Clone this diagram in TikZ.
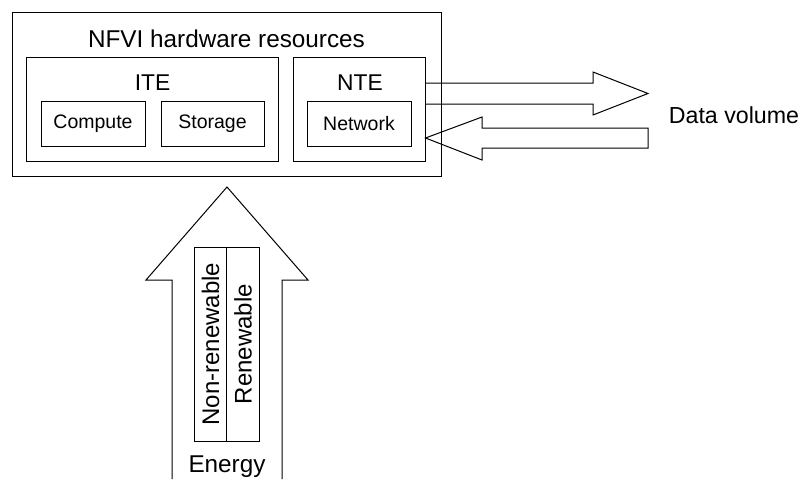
\documentclass[tikz,border=0pt]{standalone}
\usepackage{fontspec}
\setmainfont{Liberation Sans}
\usetikzlibrary{positioning}

\begin{document}
\begin{tikzpicture}[x=1pt, y=-1pt,
        group/.style={draw, line width=1pt, inner sep=0pt, minimum height=104pt},
        unit/.style={draw, line width=1pt, inner sep=0pt, minimum width=104pt, minimum height=45pt, font=\fontsize{19.5}{23}\selectfont},
        heading/.style={inner sep=0pt, font=\fontsize{24.3}{28}\selectfont},
        subheading/.style={inner sep=0pt, font=\fontsize{22.8}{27}\selectfont},
        source/.style={draw, line width=1pt, rotate=90, inner sep=0pt, minimum width=194pt, minimum height=32.5pt, font=\fontsize{24}{28}\selectfont},
        blockarrow/.style={draw, line width=1pt, line join=miter}
    ]
        \useasboundingbox (0,0) rectangle (805,479);

        % Zones
        \node[draw, line width=1pt, minimum width=429pt, minimum height=164pt] (nfvi) at (226.5,94) {};
        \node[heading] (nfvilabel) at (226.5,39) {NFVI hardware resources};
        \node[group, minimum width=252pt] (ite) at (152,109) {};
        \node[subheading] (itelabel) at (152.5,83) {ITE};
        \node[group, minimum width=132pt] (nte) at (359,109) {};
        \node[subheading] (ntelabel) at (360,83) {NTE};
        \node[unit] (compute) at (93,123.5) {Compute};
        \node[unit, minimum width=103pt, right=15pt of compute] (storage) {Storage};
        \node[unit] (network) at (359,123.5) {Network};

        % Energy
        \draw[blockarrow] (172,479) -- (172,280) -- (146,280) -- (227,187) -- (308,280) -- (282,280) -- (282,479);
        \node[source] (nonrenewable) at (210.5,344) {Non-renewable};
        \node[source] (renewable) at (243,344) {Renewable};
        \node[heading] (energy) at (227,467) {Energy};

        % Data volume
        \draw[blockarrow] (nte.east |- 0,83) -- (593,83) -- (593,72) -- (648,93.5) -- (593,115) -- (593,104) -- (nte.east |- 0,104);
        \draw[blockarrow] (nte.east |- 0,138) -- (482,117) -- (482,128) -- (648,128) -- (648,148) -- (482,148) -- (482,160) -- cycle;
        \node[subheading, font=\fontsize{23.2}{27}\selectfont] (data) at (734,115) {Data volume};
    \end{tikzpicture}
\end{document}
